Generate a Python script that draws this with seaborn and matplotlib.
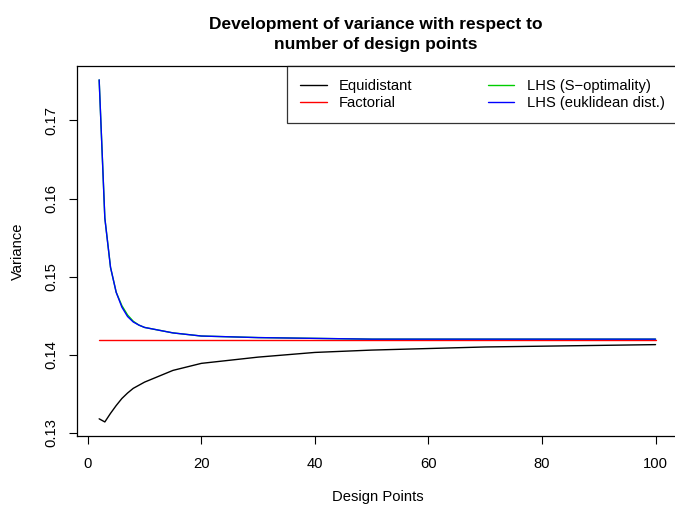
import numpy as np
import pandas as pd
import matplotlib
matplotlib.use("Agg")
import matplotlib.pyplot as plt
import seaborn as sns

sns.set_style("white")
plt.rcParams['font.family'] = ['Liberation Sans', 'DejaVu Sans']
plt.rcParams['text.color'] = 'black'
plt.rcParams['axes.labelcolor'] = 'black'
plt.rcParams['xtick.color'] = 'black'
plt.rcParams['ytick.color'] = 'black'

design_points = [2, 3, 4, 5, 6, 7, 8, 9, 10, 15, 20, 25, 30, 40, 50, 60, 70, 80, 90, 100]
equidistant = [0.1318, 0.1314, 0.1325, 0.1335, 0.1344, 0.1351, 0.1357, 0.1361, 0.1365, 0.1380,
               0.1389, 0.1393, 0.1397, 0.1403, 0.1406, 0.1408, 0.1410, 0.1411, 0.1412, 0.1413]
factorial = [0.1419] * len(design_points)
lhs_s_opt = [0.1752, 0.1575, 0.1512, 0.1480, 0.1463, 0.1451, 0.1443, 0.1438, 0.1435, 0.1428,
             0.1424, 0.1423, 0.1422, 0.1421, 0.1420, 0.1420, 0.1420, 0.1420, 0.1420, 0.1420]
lhs_euclid = [0.1752, 0.1575, 0.1512, 0.1480, 0.1461, 0.1449, 0.1442, 0.1438, 0.1435, 0.1428,
              0.1424, 0.1423, 0.1422, 0.1421, 0.1420, 0.1420, 0.1420, 0.1420, 0.1420, 0.1420]

series_names = ["Equidistant", "Factorial", "LHS (S\u2212optimality)", "LHS (euklidean dist.)"]
series_colors = ["#000000", "#FF0000", "#00CD00", "#0000FF"]
x_ticks = [0, 20, 40, 60, 80, 100]
y_ticks = [0.13, 0.14, 0.15, 0.16, 0.17]

frames = []
for name, vals in zip(series_names, [equidistant, factorial, lhs_s_opt, lhs_euclid]):
    frames.append(pd.DataFrame({"Design Points": design_points, "Variance": vals, "series": name}))
df = pd.concat(frames, ignore_index=True)

FS = 10.6

fig = plt.figure(figsize=(6.75, 5.09), dpi=100)
ax = fig.add_axes([76.9 / 675, 1 - 436 / 509, (677.8 - 76.9) / 675, (436 - 65.8) / 509])

sns.lineplot(data=df, x="Design Points", y="Variance", hue="series",
             hue_order=series_names, palette=dict(zip(series_names, series_colors)),
             linewidth=1.0, ax=ax, legend=True)

ax.set_xlim(-1.92, 103.92)
ax.set_ylim(0.1296, 0.1770)
ax.set_xticks(x_ticks)
ax.set_xticklabels([str(t) for t in x_ticks])
ax.set_yticks(y_ticks)
ax.set_yticklabels([f"{t:.2f}" for t in y_ticks], rotation=90, va="center")
ax.tick_params(axis="both", direction="out", length=6, width=0.8, color="black",
               labelsize=FS, labelcolor="black", bottom=True, left=True)
ax.tick_params(axis="x", pad=9)
ax.tick_params(axis="y", pad=7)
for s in ax.spines.values():
    s.set_color("black")
    s.set_linewidth(0.9)

ax.set_xlabel("Design Points", fontsize=FS, labelpad=14, color="black")
ax.set_ylabel("Variance", fontsize=FS, labelpad=14, color="black")

leg = ax.legend(loc="upper right", bbox_to_anchor=(1, 1), borderaxespad=0, ncol=2,
                fontsize=FS, frameon=True, fancybox=False, edgecolor="black",
                handlelength=1.8, handletextpad=0.85, columnspacing=5.1,
                labelspacing=0.2, borderpad=0.9)
leg.get_frame().set_linewidth(0.9)
for line in leg.get_lines():
    line.set_linewidth(1.0)
for t in leg.get_texts():
    t.set_color("black")

fig.text(376 / 675, 1 - 29 / 509, "Development of variance with respect to", ha="center",
         va="baseline", fontsize=12.5, fontweight="bold", color="black")
fig.text(376 / 675, 1 - 48.5 / 509, "number of design points", ha="center",
         va="baseline", fontsize=12.5, fontweight="bold", color="black")

fig.savefig("out.png", dpi=100)
